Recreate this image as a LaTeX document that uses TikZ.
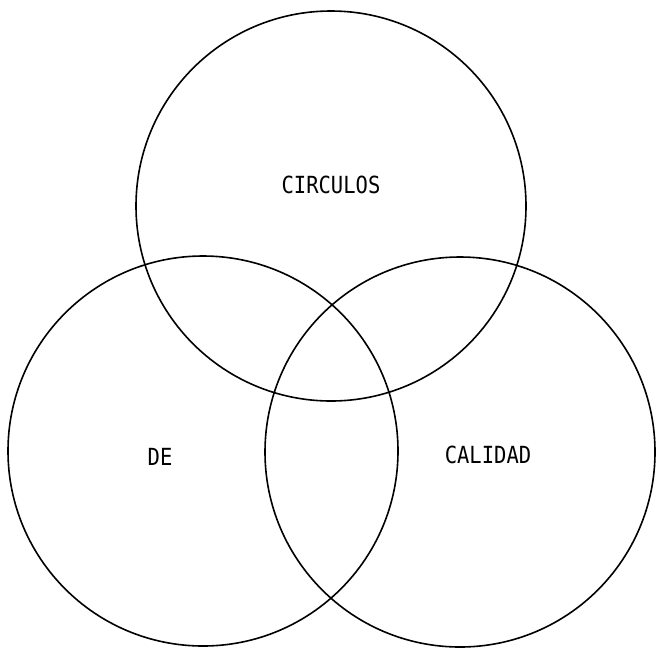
\documentclass[tikz,border=0pt]{standalone}
\usepackage{fontspec}
\newfontfamily\labelfont{DejaVu Sans Mono}
\begin{document}
\begin{tikzpicture}[x=1pt,y=-1pt,
  ring/.style={draw=black,line width=1.6pt,circle,minimum size=390pt,inner sep=0pt},
  lbl/.style={font=\labelfont\fontsize{20.5}{20.5}\selectfont,inner sep=0pt,text=black,yscale=1.15}]
\useasboundingbox[fill=white] (0,0) rectangle (656,649);
\node[ring] (top) at (331,206) {};
\node[ring] (left) at (203,451) {};
\node[ring] (right) at (460,452) {};
\node[lbl] (t1) at (331,185) {CIRCULOS};
\node[lbl] (t2) at (160,457) {DE};
\node[lbl] (t3) at (488,455) {CALIDAD};
\end{tikzpicture}
\end{document}
